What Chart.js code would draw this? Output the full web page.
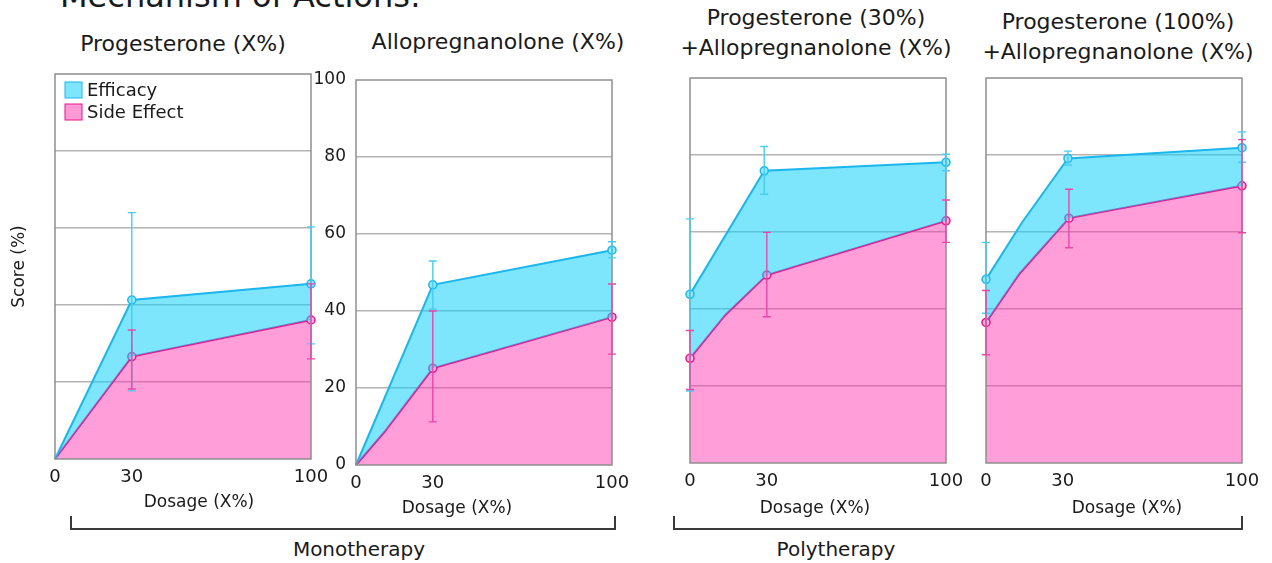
<!DOCTYPE html>
<html lang="en">
<head>
  <meta charset="UTF-8">
  <title>Mechanism of Actions</title>
  <script src="https://cdn.jsdelivr.net/npm/chart.js"></script>
  <style>
    body {
      margin: 0;
      width: 1272px;
      height: 563px;
      background: #fff;
      font-family: 'DejaVu Sans', sans-serif;
      color: #1a1a1a;
      position: relative;
      overflow: hidden;
    }
    canvas, .lbl {
      position: absolute;
    }
    .lbl {
      white-space: nowrap;
      transform: translate(-50%, -50%);
      text-align: center;
    }
    .title { font-size: 22px; line-height: 30px; }
    .dose { font-size: 17px; }
    .group { font-size: 20px; }
    #mainTitle {
      position: absolute;
      left: 60px;
      top: -20px;
      font-size: 32px;
      line-height: 32px;
      white-space: nowrap;
    }
    .bracket {
      position: absolute;
      border: 2px solid #3a3a3a;
      border-top: none;
      height: 12px;
    }
  </style>
</head>
<body>
  <div id="mainTitle">Mechanism of Actions:</div>

  <div class="lbl title" style="left:183px; top:44px;">Progesterone (X%)</div>
  <div class="lbl title" style="left:498px; top:42px;">Allopregnanolone (X%)</div>
  <div class="lbl title" style="left:816px; top:33px;">Progesterone (30%)<br>+Allopregnanolone (X%)</div>
  <div class="lbl title" style="left:1118px; top:37px;">Progesterone (100%)<br>+Allopregnanolone (X%)</div>

  <canvas id="panel1"></canvas>
  <canvas id="panel2"></canvas>
  <canvas id="panel3"></canvas>
  <canvas id="panel4"></canvas>

  <div class="lbl dose" style="left:199px; top:501px;">Dosage (X%)</div>
  <div class="lbl dose" style="left:457px; top:507px;">Dosage (X%)</div>
  <div class="lbl dose" style="left:815px; top:507px;">Dosage (X%)</div>
  <div class="lbl dose" style="left:1127px; top:507px;">Dosage (X%)</div>

  <div class="bracket" style="left:70px; top:516px; width:542px;"></div>
  <div class="bracket" style="left:673px; top:516px; width:566px;"></div>
  <div class="lbl group" style="left:359px; top:549px;">Monotherapy</div>
  <div class="lbl group" style="left:836px; top:549px;">Polytherapy</div>

  <script>
    // ---- data ----
    const seriesNames = ['Efficacy', 'Side Effect'];
    const xTicks = [0, 30, 100];
    const yTicks = [0, 20, 40, 60, 80, 100];

    // Progesterone (X%)
    const p1EffDose = [0, 30, 100];
    const p1Eff = [0, 41.3, 45.5];
    const p1EffHigh = [null, 64, 60.3];
    const p1EffLow = [null, 17.7, 29.9];
    const p1SideDose = [0, 30, 100];
    const p1Side = [0, 26.6, 36.1];
    const p1SideHigh = [null, 33.5, 45.5];
    const p1SideLow = [null, 18.2, 26];

    // Allopregnanolone (X%)
    const p2EffDose = [0, 30, 100];
    const p2Eff = [0, 46.8, 55.8];
    const p2EffHigh = [null, 53, 58];
    const p2EffLow = [null, 40.5, 53.8];
    const p2SideDose = [0, 11, 30, 100];
    const p2Side = [0, 8.5, 25.1, 38.4];
    const p2SideHigh = [null, null, 40, 47];
    const p2SideLow = [null, null, 11.2, 28.8];

    // Progesterone (30%) + Allopregnanolone (X%)
    const p3EffDose = [0, 29, 100];
    const p3Eff = [43.8, 75.9, 78.1];
    const p3EffHigh = [63.4, 82.2, 80.2];
    const p3EffLow = [18.7, 69.8, 75.9];
    const p3SideDose = [0, 13.7, 30, 100];
    const p3Side = [27.2, 38.4, 48.8, 62.9];
    const p3SideHigh = [34.4, null, 59.9, 68.3];
    const p3SideLow = [19.1, null, 38, 57.3];

    // Progesterone (100%) + Allopregnanolone (X%)
    const p4EffDose = [0, 14, 32, 100];
    const p4Eff = [47.7, 62.4, 79.1, 81.9];
    const p4EffHigh = [57.3, null, 81, 86];
    const p4EffLow = [38.9, null, 77.4, 78.1];
    const p4SideDose = [0, 13, 32.4, 100];
    const p4Side = [36.5, 49.1, 63.6, 72];
    const p4SideHigh = [44.8, null, 71.1, 84];
    const p4SideLow = [28.1, null, 55.9, 59.8];

    // ---- styles ----
    const effLine = '#1cb6ee';
    const effFill = 'rgba(18, 208, 250, 0.55)';
    const effBar = '#49cdf3';
    const sideLine = '#e6158c';
    const sideFill = 'rgba(255, 40, 168, 0.45)';
    const sideBar = '#ec46a8';

    Chart.defaults.font.family = "'DejaVu Sans', sans-serif";
    Chart.defaults.color = '#1a1a1a';

    const padL = 50, padT = 12, padR = 24, padB = 60;

    // frame + error bars + legend
    const panelDecor = {
      id: 'panelDecor',
      afterDatasetsDraw(chart, args, opts) {
        const ctx = chart.ctx;
        const a = chart.chartArea;
        ctx.save();
        ctx.strokeStyle = '#8e8e8e';
        ctx.lineWidth = 1.5;
        ctx.strokeRect(a.left, a.top, a.right - a.left, a.bottom - a.top);

        const y = chart.scales.y;
        chart.data.datasets.forEach((ds, i) => {
          const meta = chart.getDatasetMeta(i);
          ctx.strokeStyle = ds.errColor;
          ctx.lineWidth = 1.4;
          ds.errHigh.forEach((hi, j) => {
            if (hi == null) return;
            const x = meta.data[j].x;
            const yh = y.getPixelForValue(hi);
            const yl = y.getPixelForValue(ds.errLow[j]);
            ctx.beginPath();
            ctx.moveTo(x, yh); ctx.lineTo(x, yl);
            ctx.moveTo(x - 4, yh); ctx.lineTo(x + 4, yh);
            ctx.moveTo(x - 4, yl); ctx.lineTo(x + 4, yl);
            ctx.stroke();
          });
        });

        if (opts.legend) {
          ctx.font = "18px 'DejaVu Sans'";
          ctx.textBaseline = 'middle';
          chart.data.datasets.forEach((ds, i) => {
            const bx = a.left + 10, by = a.top + 8 + i * 22;
            ctx.fillStyle = ds.boxFill;
            ctx.fillRect(bx, by, 17, 16);
            ctx.strokeStyle = ds.borderColor;
            ctx.lineWidth = 1;
            ctx.strokeRect(bx, by, 17, 16);
            ctx.fillStyle = '#1a1a1a';
            ctx.fillText(ds.label, bx + 22, by + 9);
          });
        }
        ctx.restore();
      }
    };

    function toPoints(xs, ys) {
      return xs.map((x, i) => ({ x: x, y: ys[i] }));
    }

    // markers only where a measured point (with an error bar) sits
    function radii(hi) {
      return hi.map(v => (v == null ? 0 : 4));
    }

    function makePanel(id, box, eff, side, o) {
      const canvas = document.getElementById(id);
      const w = box.r - box.l + padL + padR;
      const h = box.b - box.t + padT + padB;
      canvas.width = w; canvas.height = h;
      canvas.style.left = (box.l - padL) + 'px';
      canvas.style.top = (box.t - padT) + 'px';
      canvas.style.width = w + 'px';
      canvas.style.height = h + 'px';

      new Chart(canvas, {
        type: 'line',
        data: {
          datasets: [{
            label: seriesNames[0],
            data: toPoints(eff.x, eff.y),
            errHigh: eff.hi, errLow: eff.lo,
            borderColor: effLine,
            backgroundColor: effFill,
            boxFill: '#7de6fb',
            errColor: effBar,
            fill: '+1',
            borderWidth: 2,
            pointRadius: radii(eff.hi),
            pointBackgroundColor: '#8fe9fb',
            pointBorderColor: effLine,
            pointBorderWidth: 1.5,
            tension: 0,
            clip: false
          }, {
            label: seriesNames[1],
            data: toPoints(side.x, side.y),
            errHigh: side.hi, errLow: side.lo,
            borderColor: sideLine,
            backgroundColor: sideFill,
            boxFill: '#ff9ad6',
            errColor: sideBar,
            fill: 'origin',
            borderWidth: 2,
            pointRadius: radii(side.hi),
            pointBackgroundColor: '#ffb0de',
            pointBorderColor: sideLine,
            pointBorderWidth: 1.5,
            tension: 0,
            clip: false
          }]
        },
        options: {
          responsive: false,
          animation: false,
          layout: { padding: { left: 0, top: padT, right: padR, bottom: 0 } },
          plugins: {
            legend: { display: false },
            tooltip: { enabled: false },
            panelDecor: { legend: !!o.legend }
          },
          scales: {
            x: {
              type: 'linear',
              min: 0, max: 100,
              afterBuildTicks: s => { s.ticks = xTicks.map(v => ({ value: v })); },
              afterFit: s => { s.height = padB; s.paddingLeft = 0; s.paddingRight = 0; },
              grid: { display: false, drawTicks: false },
              border: { display: false },
              ticks: { font: { size: 18 }, padding: 8, maxRotation: 0, autoSkip: false, color: '#1a1a1a' }
            },
            y: {
              min: 0, max: 100,
              afterBuildTicks: s => { s.ticks = yTicks.map(v => ({ value: v })); },
              afterFit: s => { s.width = padL; s.paddingTop = 0; s.paddingBottom = 0; },
              grid: {
                drawTicks: false,
                color: c => (c.tick.value === 0 || c.tick.value === 100) ? 'rgba(0,0,0,0)' : '#b4b4b4',
                lineWidth: 1.5
              },
              border: { display: false },
              ticks: { display: !!o.yTicks, font: { size: 17 }, padding: 10, color: '#1a1a1a' },
              title: { display: !!o.yTitle, text: 'Score (%)', font: { size: 17 }, padding: { top: 4, bottom: 0 }, color: '#1a1a1a' }
            }
          }
        },
        plugins: [panelDecor]
      });
    }

    makePanel('panel1', { l: 55, r: 311, t: 74, b: 459 },
      { x: p1EffDose, y: p1Eff, hi: p1EffHigh, lo: p1EffLow },
      { x: p1SideDose, y: p1Side, hi: p1SideHigh, lo: p1SideLow },
      { legend: true, yTitle: true });

    makePanel('panel2', { l: 356, r: 612, t: 80, b: 465 },
      { x: p2EffDose, y: p2Eff, hi: p2EffHigh, lo: p2EffLow },
      { x: p2SideDose, y: p2Side, hi: p2SideHigh, lo: p2SideLow },
      { yTicks: true });

    makePanel('panel3', { l: 690, r: 946, t: 78, b: 463 },
      { x: p3EffDose, y: p3Eff, hi: p3EffHigh, lo: p3EffLow },
      { x: p3SideDose, y: p3Side, hi: p3SideHigh, lo: p3SideLow },
      {});

    makePanel('panel4', { l: 986, r: 1242, t: 78, b: 463 },
      { x: p4EffDose, y: p4Eff, hi: p4EffHigh, lo: p4EffLow },
      { x: p4SideDose, y: p4Side, hi: p4SideHigh, lo: p4SideLow },
      {});
  </script>
</body>
</html>
